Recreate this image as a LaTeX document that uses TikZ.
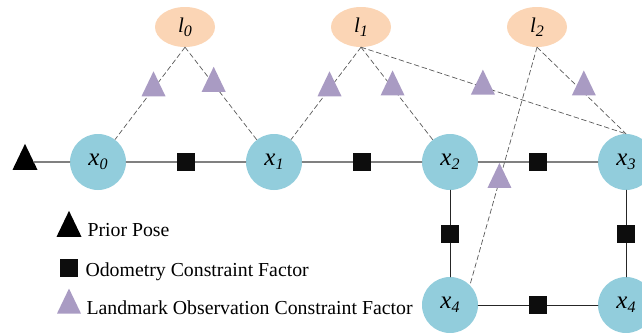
\documentclass[tikz,border=0pt]{standalone}
\usepackage{fontspec}
\setmainfont{Liberation Serif}
\usetikzlibrary{shapes.geometric}
\definecolor{poseblue}{HTML}{92CDDC}
\definecolor{lmorange}{HTML}{FBD5B5}
\definecolor{obspurple}{HTML}{A99BC3}
\newcommand{\vlab}[2]{\textit{#1}\raisebox{-4pt}{\fontsize{16}{16}\selectfont\textit{#2}}}
\begin{document}
\begin{tikzpicture}[x=1pt, y=-1pt, line join=round, line cap=round,
		pose/.style={circle, fill=poseblue, minimum size=56pt, inner sep=0pt, font=\fontsize{25}{25}\selectfont},
		land/.style={ellipse, fill=lmorange, minimum width=60pt, minimum height=40pt, inner sep=0pt, font=\fontsize{21}{21}\selectfont},
		odo/.style={rectangle, fill=black!95, minimum size=18pt, inner sep=0pt},
		obs/.style={isosceles triangle, isosceles triangle stretches, shape border rotate=90, minimum width=24pt, minimum height=25pt, inner sep=0pt, fill=obspurple},
		prior/.style={obs, fill=black, minimum width=25pt, minimum height=26pt},
		chain/.style={draw=gray, line width=1.2pt},
		link/.style={draw=black!85, line width=0.9pt},
		seen/.style={draw=black!65, dash pattern=on 5pt off 3pt, line width=0.7pt},
		legend/.style={anchor=base west, font=\fontsize{19.8}{20}\selectfont}]
		\useasboundingbox (0,0) rectangle (642,332);
		% poses and landmarks
		\node[pose] (x0) at (98,162) {\vlab{x}{0}};
		\node[pose] (x1) at (274,162) {\vlab{x}{1}};
		\node[pose] (x2) at (450,162) {\vlab{x}{2}};
		\node[pose] (x3) at (626,162) {\vlab{x}{3}};
		\node[pose] (x4a) at (450,305) {\vlab{x}{4}};
		\node[pose] (x4b) at (626,305) {\vlab{x}{4}};
		\node[land] (l0) at (185,27) {\vlab{l}{0}};
		\node[land] (l1) at (361,27) {\vlab{l}{1}};
		\node[land] (l2) at (537,27) {\vlab{l}{2}};
		\node[prior] (p0) at (25,162) {};
		% odometry
		\draw[chain] (p0) -- (x0) -- node[odo] (o01) {} (x1) -- node[odo] (o12) {} (x2) -- node[odo] (o23) {} (x3);
		\draw[link] (x2) -- node[odo] (o24) {} (x4a) -- node[odo] (o44) {} (x4b);
		\draw[link] (x3) -- node[odo] (o34) {} (x4b);
		% landmark observations
		\draw[seen] (l0.south) -- node[obs, pos=.45] (f00) {} (x0);
		\draw[seen] (l0.south) -- node[obs, pos=.40] (f01) {} (x1);
		\draw[seen] (l1.south) -- node[obs, pos=.45] (f11) {} (x1);
		\draw[seen] (l1.south) -- node[obs, pos=.44] (f12) {} (x2);
		\draw[seen] (l1.south) -- node[obs, pos=.46] (f13) {} (x3.north);
		\draw[seen] (l2.south) -- node[obs, pos=.47, xshift=5pt] (f23) {} (x3.north);
		\draw[seen] (l2.south) -- node[obs, pos=.56] (f24) {} (x4a.north east);
		% legend
		\node[prior] (lp) at (69,229) {};
		\node[odo] (lo) at (69,268) {};
		\node[obs] (lf) at (69,306) {};
		\node[legend] (tp) at (84,236) {Prior Pose};
		\node[legend] (to) at (82,276) {Odometry Constraint Factor};
		\node[legend] (tf) at (83,314) {Landmark Observation Constraint Factor};
	\end{tikzpicture}
\end{document}
